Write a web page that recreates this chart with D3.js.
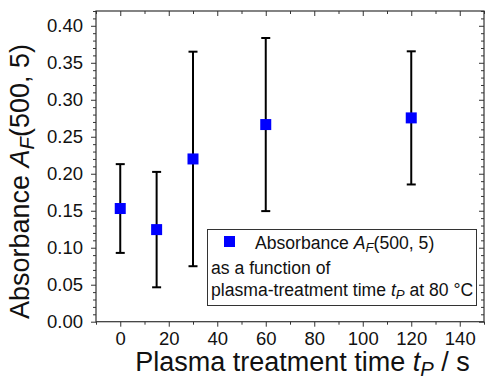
<!DOCTYPE html>
<html>
<head>
<meta charset="utf-8">
<script src="https://cdn.jsdelivr.net/npm/d3@7"></script>
<style>
  html, body { margin: 0; padding: 0; background: #fff; }
  svg { display: block; font-family: "Liberation Sans", Arial, sans-serif; }
</style>
</head>
<body>
<svg id="chart" width="485" height="384"></svg>
<script>
// Plasma treatment time (s)
const times = [0, 15, 30, 60, 120];
// Absorbance A_F(500, 5)
const absorbance = [0.153, 0.1245, 0.220, 0.2665, 0.2755];
// Standard deviation (symmetric error bars)
const errors = [0.060, 0.078, 0.145, 0.117, 0.090];

const xTicks = [0, 20, 40, 60, 80, 100, 120, 140];
const yTicks = [0.00, 0.05, 0.10, 0.15, 0.20, 0.25, 0.30, 0.35, 0.40];

const svg = d3.select("#chart");
const W = 485, H = 384;
const m = { left: 96, right: 1, top: 11, bottom: 62.3 };

const x = d3.scaleLinear().domain([-10, 150]).range([m.left, W - m.right]);
const y = d3.scaleLinear().domain([0, 0.42]).range([H - m.bottom, m.top]);

const frameColor = "#333";
const minorX = d3.range(-10, 151, 10).filter(v => v % 20 !== 0);
const minorY = d3.range(0, 43).map(i => i / 100).filter(v => Math.round(v * 100) % 5 !== 0);

function styleAxis(g) {
  g.select(".domain").remove();
  g.selectAll(".tick line").attr("stroke", frameColor).attr("stroke-width", 1);
}

// bottom axis: labelled majors, outward ticks
svg.append("g")
  .attr("transform", `translate(0,${y(0)})`)
  .call(d3.axisBottom(x).tickValues(xTicks).tickSize(5).tickPadding(5).tickFormat(d3.format("d")))
  .call(styleAxis)
  .call(g => g.selectAll("text").attr("font-size", 18.5).attr("fill", "#111").attr("font-family", "Liberation Sans, Arial, sans-serif"));
svg.append("g")
  .attr("transform", `translate(0,${y(0)})`)
  .call(d3.axisBottom(x).tickValues(minorX).tickSize(3).tickFormat(""))
  .call(styleAxis);

// top axis: mirrored inward ticks
svg.append("g")
  .attr("transform", `translate(0,${m.top})`)
  .call(d3.axisBottom(x).tickValues(xTicks).tickSize(5).tickFormat(""))
  .call(styleAxis);
svg.append("g")
  .attr("transform", `translate(0,${m.top})`)
  .call(d3.axisBottom(x).tickValues(minorX).tickSize(3).tickFormat(""))
  .call(styleAxis);

// left axis: labelled majors, outward ticks
svg.append("g")
  .attr("transform", `translate(${m.left},0)`)
  .call(d3.axisLeft(y).tickValues(yTicks).tickSize(5).tickPadding(8).tickFormat(d3.format(".2f")))
  .call(styleAxis)
  .call(g => g.selectAll("text").attr("font-size", 18.5).attr("fill", "#111").attr("font-family", "Liberation Sans, Arial, sans-serif"));
svg.append("g")
  .attr("transform", `translate(${m.left},0)`)
  .call(d3.axisLeft(y).tickValues(minorY).tickSize(3).tickFormat(""))
  .call(styleAxis);

// right axis: mirrored inward ticks
svg.append("g")
  .attr("transform", `translate(${W - m.right},0)`)
  .call(d3.axisLeft(y).tickValues(yTicks).tickSize(5).tickFormat(""))
  .call(styleAxis);
svg.append("g")
  .attr("transform", `translate(${W - m.right},0)`)
  .call(d3.axisLeft(y).tickValues(minorY).tickSize(3).tickFormat(""))
  .call(styleAxis);

// frame
svg.append("rect")
  .attr("x", x(-10)).attr("y", y(0.42))
  .attr("width", x(150) - x(-10)).attr("height", y(0) - y(0.42))
  .attr("fill", "none").attr("stroke", frameColor).attr("stroke-width", 1.2);

const data = times.map((t, i) => ({ t, v: absorbance[i], e: errors[i] }));

// error bars
const eb = svg.append("g").attr("stroke", "#000").attr("stroke-width", 2);
const capW = 4.5;
eb.selectAll("line.stem").data(data).join("line").attr("class", "stem")
  .attr("x1", d => x(d.t)).attr("x2", d => x(d.t))
  .attr("y1", d => y(d.v + d.e)).attr("y2", d => y(d.v - d.e));
eb.selectAll("line.capTop").data(data).join("line").attr("class", "capTop")
  .attr("x1", d => x(d.t) - capW).attr("x2", d => x(d.t) + capW)
  .attr("y1", d => y(d.v + d.e)).attr("y2", d => y(d.v + d.e));
eb.selectAll("line.capBot").data(data).join("line").attr("class", "capBot")
  .attr("x1", d => x(d.t) - capW).attr("x2", d => x(d.t) + capW)
  .attr("y1", d => y(d.v - d.e)).attr("y2", d => y(d.v - d.e));

// square markers
const sq = 11;
svg.append("g").selectAll("rect").data(data).join("rect")
  .attr("x", d => x(d.t) - sq / 2).attr("y", d => y(d.v) - sq / 2)
  .attr("width", sq).attr("height", sq).attr("fill", "#0000ff");

// legend
const lg = svg.append("g");
lg.append("rect").attr("x", 207.5).attr("y", 229.5).attr("width", 269).attr("height", 76)
  .attr("fill", "#fff").attr("stroke", frameColor).attr("stroke-width", 1);
lg.append("rect").attr("x", 224).attr("y", 236).attr("width", sq).attr("height", sq).attr("fill", "#0000ff");
const lfs = 17.6;
const t1 = lg.append("text").attr("x", 255).attr("y", 248.5).attr("font-size", lfs).attr("fill", "#111");
t1.append("tspan").text("Absorbance ");
t1.append("tspan").attr("font-style", "italic").text("A");
t1.append("tspan").attr("font-style", "italic").attr("font-size", lfs * 0.75).attr("dy", 3).text("F");
t1.append("tspan").attr("dy", -3).text("(500, 5)");
lg.append("text").attr("x", 211).attr("y", 274).attr("font-size", lfs).attr("fill", "#111").text("as a function of");
const t3 = lg.append("text").attr("x", 211).attr("y", 295.5).attr("font-size", lfs).attr("fill", "#111");
t3.append("tspan").text("plasma-treatment time ");
t3.append("tspan").attr("font-style", "italic").text("t");
t3.append("tspan").attr("font-style", "italic").attr("font-size", lfs * 0.75).attr("dy", 3).text("P");
t3.append("tspan").attr("dy", -3).text(" at 80 °C");

// axis titles
const tfs = 27;
const xt = svg.append("text").attr("x", 302.5).attr("y", 371).attr("text-anchor", "middle")
  .attr("font-size", tfs).attr("fill", "#111");
xt.append("tspan").text("Plasma treatment time ");
xt.append("tspan").attr("font-style", "italic").text("t");
xt.append("tspan").attr("font-style", "italic").attr("font-size", tfs * 0.75).attr("dy", 5).text("P");
xt.append("tspan").attr("dy", -5).text(" / s");

const yt = svg.append("text").attr("transform", `translate(29,181.5) rotate(-90)`).attr("text-anchor", "middle")
  .attr("font-size", tfs).attr("fill", "#111");
yt.append("tspan").text("Absorbance ");
yt.append("tspan").attr("font-style", "italic").text("A");
yt.append("tspan").attr("font-style", "italic").attr("font-size", tfs * 0.75).attr("dy", 5).text("F");
yt.append("tspan").attr("dy", -5).text("(500, 5)");
</script>
</body>
</html>
